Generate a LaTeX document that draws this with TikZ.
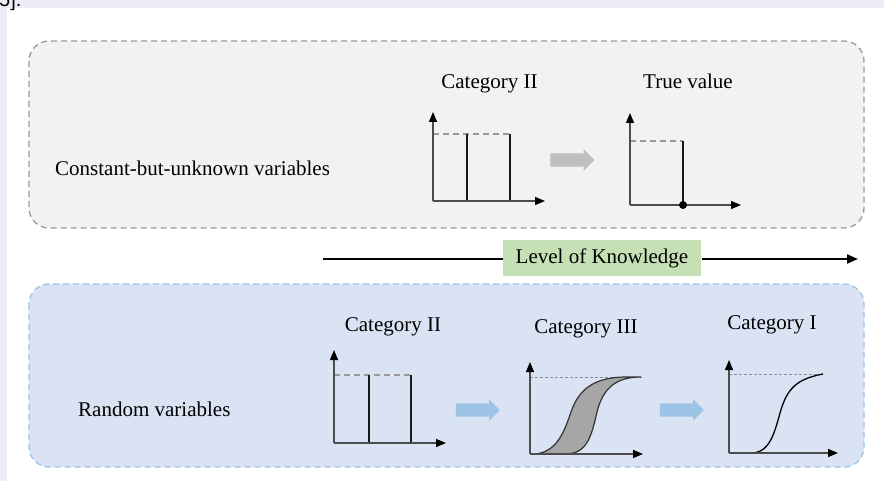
\documentclass[tikz,border=0pt]{standalone}
\usepackage{fontspec}
\setmainfont{Liberation Serif}
\newfontfamily\pagefont{Liberation Sans}
\usepackage{tikz}
\usetikzlibrary{positioning, shapes.arrows, arrows.meta}
\definecolor{G1}{HTML}{F2F2F2}
\definecolor{G2}{HTML}{9A9A9A}
\definecolor{B1}{HTML}{DAE3F3}
\definecolor{B2}{HTML}{9DC3E6}
\definecolor{K1}{HTML}{C5E0B4}
\definecolor{A1}{HTML}{BFBFBF}
\definecolor{S1}{HTML}{A6A6A6}
\definecolor{P1}{HTML}{EDEDF7}

\begin{document}
\begin{tikzpicture}[
	x = 1pt, y = -1pt,
	txt/.style = {font=\rmfamily\fontsize{21}{25}\selectfont, inner sep=0pt},
	panel/.style = {rounded corners=20pt, line width=1.3pt, dash pattern=on 6pt off 4pt},
	axisline/.style = {draw=black!70, line width=1.2pt, -{Triangle[length=10pt, width=8pt, color=black]}},
	bar/.style = {draw=black!90, line width=1.5pt},
	toplevel/.style = {draw=black!40, line width=1.2pt, dash pattern=on 6pt off 4pt},
	finelevel/.style = {draw=black!45, line width=0.9pt, dash pattern=on 3pt off 2pt},
	levelbox/.style = {fill=K1, font=\rmfamily\fontsize{21}{25}\selectfont, inner xsep=13pt, inner ysep=8pt},
	fatarrow/.style = {single arrow, minimum height=44pt, inner xsep=0pt, inner ysep=6.5pt,
		single arrow head extend=4pt}
]
  \useasboundingbox (0,0) rectangle (884,481);
  % page background
  \fill[P1] (0,0) rectangle (884,481);
  \fill[white] (7,8) rectangle (884,481);
  \node[anchor=base west, inner sep=0pt, font=\pagefont\fontsize{20}{22}\selectfont] (cut) at (-1,7) {5].};

  % Define panels
  \draw[panel, draw=G2, fill=G1] (29,41) rectangle (864,228);
  \draw[panel, draw=B2, fill=B1] (29,284) rectangle (864,467);

  % Define labels
  \node[txt, anchor=base west] (cbu) at (55,175.5) {Constant-but-unknown variables};
  \node[txt, anchor=base] (cat2a) at (489.5,89) {Category II};
  \node[txt, anchor=base] (truev) at (688,89) {True value};
  \node[txt, anchor=base west] (rv) at (78,416.5) {Random variables};
  \node[txt, anchor=base] (cat2b) at (393,331) {Category II};
  \node[txt, anchor=base] (cat3) at (586,333) {Category III};
  \node[txt, anchor=base] (cat1) at (772,330) {Category I};

  % Level of knowledge
  \node[levelbox] (lok) at (602,258) {Level of Knowledge};
  \coordinate (lstart) at (323,259);
  \coordinate (lend) at (858,259);
  \draw[line width=2pt] (lstart) -- (lok.west |- lstart);
  \draw[line width=2pt, -{Triangle[length=11pt, width=9pt]}] (lok.east |- lend) -- (lend);

  % Block arrows
  \node[fatarrow, fill=A1] (ga) at (569,160) {};
  \node[fatarrow, fill=B2] (ba1) at (474.5,410) {};
  \node[fatarrow, fill=B2] (ba2) at (678.5,410) {};

  % Category II (constant)
  \begin{scope}[shift={(433,201)}]
    \draw[toplevel] (0,-67) -- (77,-67);
    \draw[bar] (34,0) -- (34,-67);
    \draw[bar] (77,0) -- (77,-67);
    \draw[axisline] (0,0) -- (0,-89);
    \draw[axisline] (0,0) -- (112,0);
  \end{scope}

  % True value
  \begin{scope}[shift={(630,205)}]
    \draw[toplevel] (0,-64) -- (53,-64);
    \draw[bar] (53,0) -- (53,-64);
    \draw[axisline] (0,0) -- (0,-92);
    \draw[axisline] (0,0) -- (111,0);
    \fill (53,0) circle (4pt);
  \end{scope}

  % Category II (random)
  \begin{scope}[shift={(334,443)}]
    \draw[toplevel] (0,-68) -- (77,-68);
    \draw[bar] (35,0) -- (35,-68);
    \draw[bar] (77,0) -- (77,-68);
    \draw[axisline] (0,0) -- (0,-93);
    \draw[axisline] (0,0) -- (112,0);
  \end{scope}

  % Category III
  \begin{scope}[shift={(530,454)}]
    \draw[finelevel] (0,-77) -- (112,-77);
    \draw[fill=S1, draw=black!80, line width=1.2pt]
      (5,0) .. controls (28,-2) and (35,-25) .. (41,-42)
      .. controls (49,-66) and (66,-77) .. (96,-77) -- (111,-77)
      .. controls (86,-77) and (73,-66) .. (67,-42)
      .. controls (61,-15) and (56,0) .. (35,0) -- cycle;
    \draw[axisline] (0,0) -- (0,-92);
    \draw[axisline] (0,0) -- (113,0);
  \end{scope}

  % Category I
  \begin{scope}[shift={(729,453)}]
    \draw[finelevel] (0,-79) -- (94,-79);
    \draw[draw=black, line width=1.3pt]
      (0,0) -- (22,0) .. controls (40,0) and (45,-18) .. (51,-40)
      .. controls (58,-65) and (68,-74) .. (94,-79);
    \draw[axisline] (0,0) -- (0,-93);
    \draw[axisline] (0,0) -- (109,0);
  \end{scope}
\end{tikzpicture}
\end{document}
